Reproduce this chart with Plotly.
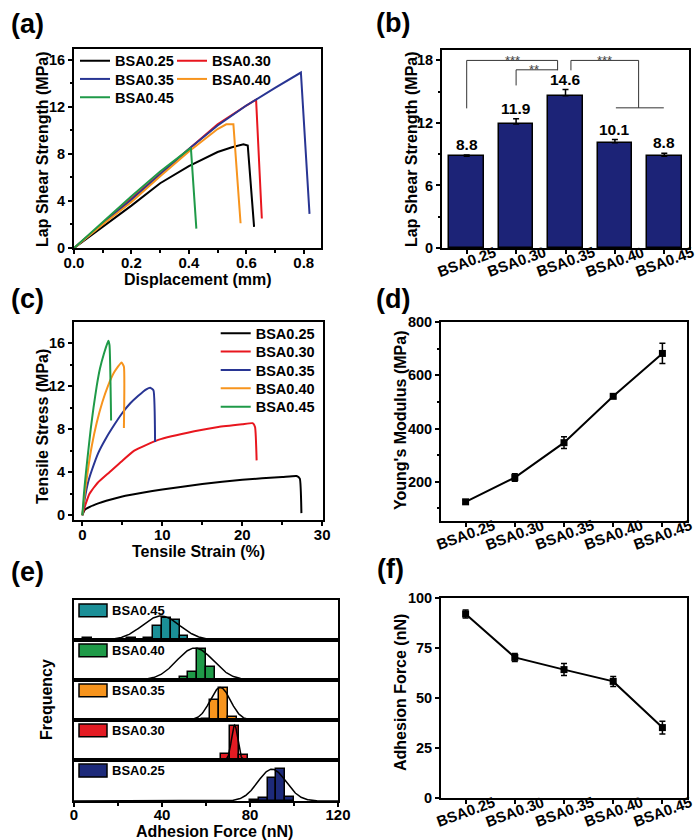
import numpy as np
import plotly.graph_objects as go

W, H = 700, 840
FONT = "Liberation Sans, Arial, sans-serif"

groups = ["BSA0.25", "BSA0.30", "BSA0.35", "BSA0.40", "BSA0.45"]
colors = ["#000000", "#e8161e", "#283593", "#f7941d", "#1f9a48"]

# ---------------- (a) lap shear curves ----------------
a_x_025 = [0, 0.1, 0.2, 0.3, 0.4, 0.5, 0.55, 0.59, 0.605, 0.627]
a_y_025 = [0, 1.8, 3.6, 5.5, 6.95, 8.15, 8.55, 8.8, 8.7, 1.8]
a_x_030 = [0, 0.1, 0.2, 0.3, 0.4, 0.5, 0.6, 0.634, 0.654]
a_y_030 = [0, 2.1, 4.2, 6.3, 8.4, 10.5, 12.1, 12.6, 2.5]
a_x_035 = [0, 0.1, 0.2, 0.3, 0.4, 0.5, 0.6, 0.7, 0.79, 0.82]
a_y_035 = [0, 2.05, 4.1, 6.25, 8.4, 10.4, 12.1, 13.6, 14.9, 2.9]
a_x_040 = [0, 0.1, 0.2, 0.3, 0.4, 0.5, 0.53, 0.555, 0.58]
a_y_040 = [0, 2.0, 3.9, 6.1, 8.2, 10.1, 10.5, 10.5, 2.1]
a_x_045 = [0, 0.1, 0.2, 0.3, 0.407, 0.426]
a_y_045 = [0, 2.2, 4.4, 6.5, 8.5, 1.65]

# ---------------- (b) lap shear strength bars ----------------
b_vals = [8.8, 11.9, 14.6, 10.1, 8.8]
b_errs = [0.12, 0.5, 0.6, 0.3, 0.3]
# significance brackets (x in group index units, y in MPa)
sig_brackets = [
    ([0, 0, 1.84, 1.84], [13.4, 18, 18, 17.05]),
    ([1, 1, 1.84], [15.6, 17.1, 17.1]),
    ([2.11, 2.11, 3.48, 3.48], [17.05, 18, 18, 13.45]),
    ([3.02, 3.99], [13.45, 13.45]),
]
sig_labels = ["***", "**", "***"]
sig_label_x = [0.93, 1.37, 2.79]
sig_label_y = [18, 17.1, 18]

# ---------------- (c) tensile curves ----------------
c_x_025 = [0, 0.3, 1, 2, 3, 5, 7.5, 10, 15, 20, 25, 26.8, 27.2, 27.4]
c_y_025 = [0, 0.5, 0.8, 1.1, 1.35, 1.75, 2.1, 2.4, 2.9, 3.3, 3.55, 3.65, 3.4, 0.2]
c_x_030 = [0, 0.4, 0.9, 1.9, 3.4, 4.9, 6.5, 9.5, 14, 17, 20, 21.3, 21.6, 21.8]
c_y_030 = [0, 1, 2, 3, 4, 5, 6, 7, 7.8, 8.2, 8.45, 8.55, 8.2, 5.1]
c_x_035 = [0, 0.3, 0.7, 1.2, 2, 3, 4, 5, 6, 7, 8, 8.5, 8.9, 9.1]
c_y_035 = [0, 1.5, 3, 4.2, 5.8, 7.2, 8.4, 9.5, 10.4, 11.1, 11.7, 11.85, 11.6, 6.8]
c_x_040 = [0, 0.3, 0.7, 1.2, 1.8, 2.5, 3.2, 4, 4.9, 5.2, 5.2]
c_y_040 = [0, 2, 4.2, 6.5, 8.6, 10.5, 12, 13.3, 14.2, 13.8, 8.1]
c_x_045 = [0, 0.2, 0.46, 0.75, 1.05, 1.4, 1.8, 2.2, 2.7, 3.25, 3.4, 3.6]
c_y_045 = [0, 2, 4, 6, 8, 10, 12, 13.6, 15, 16.2, 15.8, 8.8]

# ---------------- (d) Young's modulus ----------------
d_vals = [125, 216, 347, 521, 682]
d_errs = [6, 14, 22, 6, 38]

# ---------------- (e) adhesion force histograms ----------------
e_order = ["BSA0.45", "BSA0.40", "BSA0.35", "BSA0.30", "BSA0.25"]
e_colors = ["#1b8f97", "#1f9a48", "#f7941d", "#e31b23", "#1d2a7a"]
e_bins_045 = [6, 26, 34, 38, 42, 46, 50]
e_cnt_045 = [2, 2, 2.5, 14, 22.5, 20, 4.5]
e_bins_040 = [50, 54, 58, 62]
e_cnt_040 = [3, 8, 31, 13]
e_bins_035 = [60, 64, 68, 72]
e_cnt_035 = [1.5, 20, 32, 3.5]
e_bins_030 = [69, 73, 77]
e_cnt_030 = [6.5, 34, 5]
e_bins_025 = [82, 86, 90, 94, 98]
e_cnt_025 = [1, 3, 22, 31, 4]
# Gaussian fit parameters per strip: mean, sigma, peak height
e_fit_mean = [39.5, 55, 66.5, 73, 90]
e_fit_sigma = [8.5, 8.3, 4.6, 1.4, 6.4]
e_fit_peak = [24, 32, 32.5, 35, 31]

# ---------------- (f) adhesion force means ----------------
f_vals = [92, 70.3, 64.2, 58.3, 35.2]
f_errs = [2, 2, 3, 2.5, 3.2]


def dx(p0, p1):
    return [p0 / W, p1 / W]


def dy(top, bot):
    return [1 - bot / H, 1 - top / H]


fig = go.Figure()

XTICKFONT = dict(family=FONT, size=15, color="black", weight="bold")
YTICKFONT = dict(family=FONT, size=14.5, color="black", weight="bold")
TITLEFONT = dict(family=FONT, size=16, color="black", weight="bold")

base_ax = dict(
    showline=True, linecolor="black", linewidth=2, mirror=True, automargin=False,
    ticks="outside", ticklen=4, tickwidth=1.5, tickcolor="black",
    showgrid=False, zeroline=False,
)


def ax(**kw):
    d = dict(base_ax, tickfont=YTICKFONT)
    d.update(kw)
    return d


def xax(**kw):
    d = dict(base_ax, tickfont=XTICKFONT, ticklabelstandoff=-4)
    d.update(kw)
    return d


def minor(dt):
    return dict(ticks="outside", ticklen=2.5, tickwidth=1.5, tickcolor="black", dtick=dt)


legend_font = dict(family=FONT, size=14.5, color="black", weight="bold")
legends = {}


def add_legend(name, line_x, row_y):
    legends[name] = dict(x=(line_x - 5) / W, y=1 - row_y / H, xanchor="left",
                         yanchor="middle", bgcolor="rgba(0,0,0,0)", itemwidth=30,
                         font=legend_font)


# ---- (a)
a_xs = [a_x_025, a_x_030, a_x_035, a_x_040, a_x_045]
a_ys = [a_y_025, a_y_030, a_y_035, a_y_040, a_y_045]
a_leg_x = [80, 177, 80, 177, 80]
a_leg_y = [60.7, 60.7, 79, 79, 97.3]
for i, g in enumerate(groups):
    lname = "legend" if i == 0 else f"legend{i + 1}"
    add_legend(lname, a_leg_x[i], a_leg_y[i])
    fig.add_trace(go.Scatter(
        x=a_xs[i], y=a_ys[i], mode="lines", name=g,
        line=dict(color=colors[i], width=2),
        xaxis="x", yaxis="y", legend=lname,
    ))

# ---- (b)
xb = list(range(len(groups)))
fig.add_trace(go.Bar(
    x=xb, y=b_vals, width=0.7, xaxis="x2", yaxis="y2", showlegend=False,
    marker=dict(color="#1c2377", line=dict(color="black", width=1.5)),
    error_y=dict(type="data", array=b_errs, arrayminus=[0] * 5, symmetric=False,
                 color="black", thickness=1.5, width=3),
))
for bx, by in sig_brackets:
    fig.add_trace(go.Scatter(x=bx, y=by, mode="lines", xaxis="x2", yaxis="y2",
                             showlegend=False, line=dict(color="#333333", width=1)))

# ---- (c)
c_xs = [c_x_025, c_x_030, c_x_035, c_x_040, c_x_045]
c_ys = [c_y_025, c_y_030, c_y_035, c_y_040, c_y_045]
for i, g in enumerate(groups):
    lname = f"legend{i + 6}"
    add_legend(lname, 220.7, 333.3 + 18.35 * i)
    fig.add_trace(go.Scatter(
        x=c_xs[i], y=c_ys[i], mode="lines", name=g,
        line=dict(color=colors[i], width=2, shape="spline", smoothing=0.4),
        xaxis="x3", yaxis="y3", legend=lname,
    ))

# ---- (d)
fig.add_trace(go.Scatter(
    x=xb, y=d_vals, mode="lines+markers", xaxis="x4", yaxis="y4", showlegend=False,
    line=dict(color="black", width=2),
    marker=dict(symbol="square", size=7, color="black"),
    error_y=dict(type="data", array=d_errs, color="black", thickness=1.5, width=3),
))

# ---- (e)
e_bins = [e_bins_045, e_bins_040, e_bins_035, e_bins_030, e_bins_025]
e_cnts = [e_cnt_045, e_cnt_040, e_cnt_035, e_cnt_030, e_cnt_025]
xg = np.linspace(0, 120, 481)
for k in range(5):
    xa, ya = f"x{5 + k}", f"y{5 + k}"
    fig.add_trace(go.Bar(
        x=e_bins[k], y=e_cnts[k], width=4, xaxis=xa, yaxis=ya, showlegend=False,
        marker=dict(color=e_colors[k], line=dict(color="black", width=1.5)),
    ))
    yg = e_fit_peak[k] * np.exp(-0.5 * ((xg - e_fit_mean[k]) / e_fit_sigma[k]) ** 2)
    fig.add_trace(go.Scatter(x=xg, y=yg, mode="lines", xaxis=xa, yaxis=ya,
                             showlegend=False, line=dict(color="black", width=1.5)))

# ---- (f)
fig.add_trace(go.Scatter(
    x=xb, y=f_vals, mode="lines+markers", xaxis="x10", yaxis="y10", showlegend=False,
    line=dict(color="black", width=2),
    marker=dict(symbol="square", size=7, color="black"),
    error_y=dict(type="data", array=f_errs, color="black", thickness=1.5, width=3),
))

cat_x = dict(range=[-0.5, 4.5], tickvals=xb, showticklabels=False)

layout = dict(
    width=W, height=H, margin=dict(l=0, r=0, t=0, b=0, autoexpand=False),
    paper_bgcolor="white", plot_bgcolor="white",
    font=dict(family=FONT, color="black"),
    bargap=0,
    # (a)
    xaxis=xax(domain=dx(74, 321), range=[0, 0.86], tickvals=[0, 0.2, 0.4, 0.6, 0.8],
              tickformat=".1f", minor=minor(0.1), anchor="y"),
    yaxis=ax(domain=dy(49, 248), range=[0, 16.9], dtick=4, minor=minor(2), anchor="x"),
    # (b)
    xaxis2=xax(domain=dx(442, 689), anchor="y2", **cat_x),
    yaxis2=ax(domain=dy(50, 248), range=[0, 19], dtick=6, minor=minor(3), anchor="x2"),
    # (c)
    xaxis3=xax(domain=dx(74, 323), range=[-1.04, 30.1], dtick=10, minor=minor(5), anchor="y3"),
    yaxis3=ax(domain=dy(322, 520), range=[-0.44, 17.95], dtick=4, minor=minor(2), anchor="x3"),
    # (d)
    xaxis4=xax(domain=dx(441, 687), anchor="y4", **cat_x),
    yaxis4=ax(domain=dy(322, 521), range=[53, 800], tickvals=[200, 400, 600, 800],
              minor=dict(ticks="outside", ticklen=2.5, tickwidth=1.5, tickcolor="black",
                         tickvals=[100, 300, 500, 700]),
              anchor="x4"),
    # (f)
    xaxis10=xax(domain=dx(441, 687), anchor="y10", **cat_x),
    yaxis10=ax(domain=dy(598, 798), range=[0, 100], dtick=25, anchor="x10"),
)
layout.update(legends)

strip_edges = [600, 640, 680, 720, 760, 801]
for k in range(5):
    last = (k == 4)
    xk = xax(domain=dx(74, 338), range=[0, 120], dtick=40, minor=minor(20),
             anchor=f"y{5 + k}", showticklabels=last, ticks="outside" if last else "",
             ticklabelstandoff=-5)
    if not last:
        xk["minor"] = dict(ticks="")
    yk = ax(domain=dy(strip_edges[k], strip_edges[k + 1]), range=[0, 40],
            showticklabels=False, ticks="", anchor=f"x{5 + k}")
    layout[f"xaxis{5 + k}"] = xk
    layout[f"yaxis{5 + k}"] = yk

fig.update_layout(**layout)

ann = []
# panel letters
for lab, px, py in [("(a)", 27, 24), ("(b)", 393, 23), ("(c)", 27, 299),
                    ("(d)", 393, 299), ("(e)", 27, 572), ("(f)", 390, 569)]:
    ann.append(dict(text=lab, x=px / W, y=1 - py / H, xref="paper", yref="paper",
                    showarrow=False, xanchor="center", yanchor="middle",
                    font=dict(family=FONT, size=27, color="black", weight="bold")))
# axis titles
axis_titles = [
    ("Displacement (mm)", 198, 280, 0), ("Lap Shear Strength (MPa)", 42, 149, -90),
    ("Lap Shear Strength (MPa)", 411, 149, -90),
    ("Tensile Strain (%)", 198.5, 551.5, 0), ("Tensile Stress (MPa)", 42, 427, -90),
    ("Young's Modulus (MPa)", 400, 420, -90),
    ("Adhesion Force (nN)", 214, 831, 0), ("Frequency", 46, 700, -90),
    ("Adhesion Force (nN)", 400, 693, -90),
]
for t, px, py, ang in axis_titles:
    ann.append(dict(text=t, x=px / W, y=1 - py / H, xref="paper", yref="paper",
                    showarrow=False, textangle=ang, xanchor="center", yanchor="middle",
                    borderpad=0, font=TITLEFONT))
# rotated category tick labels
for xa_name, ya_name in [("x2", "y2"), ("x4", "y4"), ("x10", "y10")]:
    for i, g in enumerate(groups):
        ann.append(dict(text=g, x=i, y=0, xref=xa_name, yref=f"{ya_name} domain",
                        yshift=-13, showarrow=False, textangle=-20,
                        xanchor="center", yanchor="middle", font=XTICKFONT))
# bar value labels
for i, v in enumerate(b_vals):
    ann.append(dict(text=f"{v:.1f}", x=i, y=v + b_errs[i], xref="x2", yref="y2",
                    showarrow=False, yanchor="bottom",
                    font=dict(family=FONT, size=15.5, color="black", weight="bold")))
for t, sx, sy in zip(sig_labels, sig_label_x, sig_label_y):
    ann.append(dict(text=t, x=sx, y=sy, xref="x2", yref="y2", showarrow=False,
                    yanchor="middle", font=dict(family=FONT, size=13, color="#444444")))
shapes = []
for k, g in enumerate(e_order):
    xr, yr = f"x{5 + k} domain", f"y{5 + k} domain"
    shapes.append(dict(type="rect", xref=xr, yref=yr, x0=5 / 264, x1=33 / 264,
                       y0=1 - 16.7 / 40, y1=1 - 4 / 40, fillcolor=e_colors[k],
                       line=dict(color="black", width=1.5)))
    ann.append(dict(text=g, xref=xr, yref=yr, x=36 / 264, y=1 - 10 / 40,
                    xanchor="left", yanchor="middle", showarrow=False,
                    font=dict(family=FONT, size=13, color="black", weight="bold")))
fig.update_layout(annotations=ann, shapes=shapes)

fig.write_html("out.html", config={"displayModeBar": False},
               post_script="document.body.style.margin='0px';")
